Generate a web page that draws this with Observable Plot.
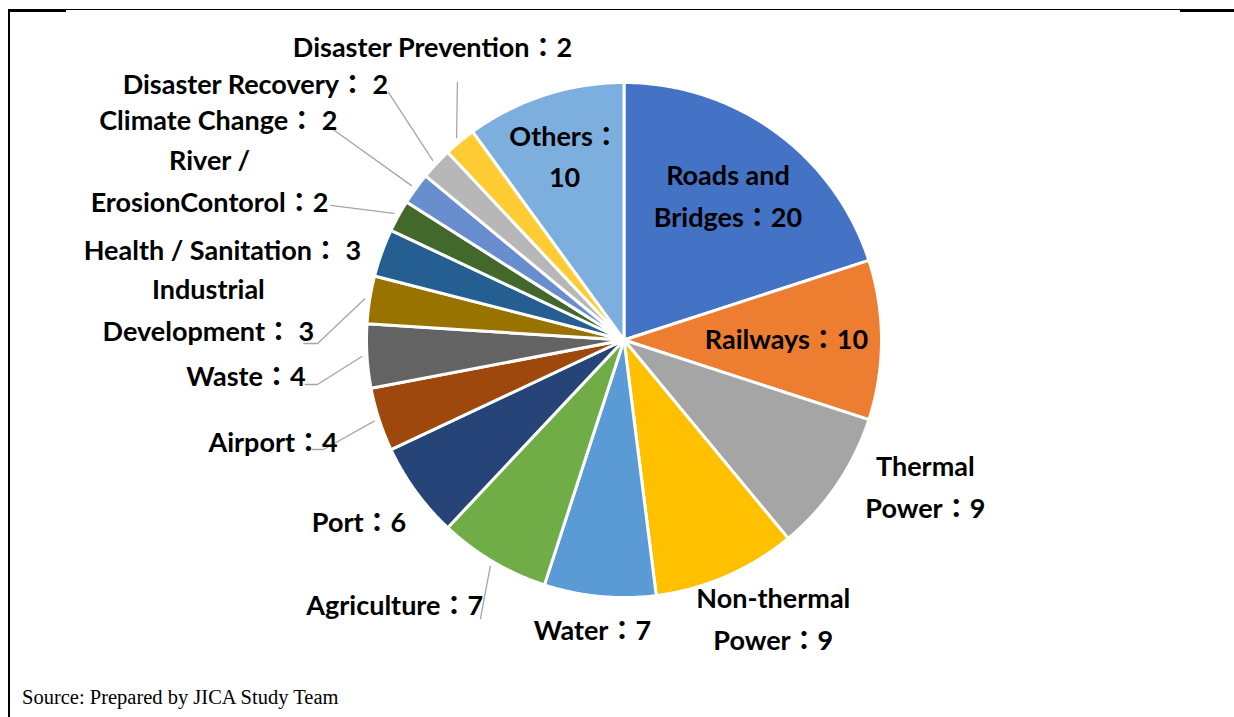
<!DOCTYPE html>
<html>
<head>
<meta charset="utf-8">
<script src="https://cdn.jsdelivr.net/npm/d3@7"></script>
<script src="https://cdn.jsdelivr.net/npm/@observablehq/plot@0.6"></script>
<style>
  body { margin: 0; background: #fff; }
  #wrap { position: relative; width: 1234px; height: 717px; overflow: hidden; background: #fff; }
  #chart { position: absolute; left: 0; top: 0; }
  .rule { position: absolute; background: #000; }
  #source { position: absolute; left: 22px; top: 687px; font-family: "Liberation Serif", "Times New Roman", serif;
            font-size: 20.5px; line-height: 20.5px; color: #000; white-space: nowrap; }
</style>
</head>
<body>
<div id="wrap">
  <div id="chart"></div>
  <div class="rule" style="left:8px;top:9px;width:1172px;height:1px"></div>
  <div class="rule" style="left:8px;top:9px;width:58px;height:3px"></div>
  <div class="rule" style="left:1180px;top:9px;width:54px;height:2.5px"></div>
  <div class="rule" style="left:8px;top:9px;width:2px;height:708px"></div>
  <div id="source">Source: Prepared by JICA Study Team</div>
</div>
<script>
// ---------- data (clockwise from 12 o'clock) ----------
const categories = [
  "Roads and Bridges", "Railways", "Thermal Power", "Non-thermal Power", "Water",
  "Agriculture", "Port", "Airport", "Waste", "Industrial Development",
  "Health / Sanitation", "River / Erosion Control", "Climate Change",
  "Disaster Recovery", "Disaster Prevention", "Others"
];
const values = [20, 10, 9, 9, 7, 7, 6, 4, 4, 3, 3, 2, 2, 2, 2, 10];
// label text as printed in the chart (name part, then separator before the value)
const labelNames = [
  "Roads and\nBridges", "Railways", "Thermal\nPower", "Non-thermal\nPower", "Water",
  "Agriculture", "Port", "Airport", "Waste", "Industrial\nDevelopment",
  "Health / Sanitation", "River /\nErosionContorol", "Climate Change",
  "Disaster Recovery", "Disaster Prevention", "Others"
];
const labelSeps = ["：", "：", "：", "：", "：", "：", "：", "：", "：", "： ",
                   "： ", "：", "： ", "： ", "：", "：\n"];
const sourceText = "Source: Prepared by JICA Study Team";

// ---------- styles / layout ----------
const colors = ["#4472C4", "#ED7D31", "#A5A5A5", "#FFC000", "#5B9BD5", "#70AD47",
                "#264478", "#9E480E", "#636363", "#997300", "#255E91", "#43682B",
                "#698ED0", "#B7B7B7", "#FFCD33", "#7CAFDD"];
// label placement: radius (in pie radii) and angular shift (deg) from the slice mid-angle
const labelR     = [0.687, 0.631, 1.303, 1.231, 1.135, 1.363, 1.250, 1.420, 1.475, 1.618, 1.598, 1.723, 1.791, 1.741, 1.358, 0.747];
const labelShift = [0, 0, -8.1, -4.7, 0.8, 10.2, 1.4, 1.7, -1.9, -5.0, -7.2, -7.9, -7.6, -8.5, 6.4, 0];
// leader lines: knee point (radius, absolute angle) and horizontal tail length (pie radii)
const leaderSpec = [
  {cat: "Agriculture",            knee: [1.217, 207.26], tail: 0},
  {cat: "Airport",                knee: [1.242, 249.98], tail: 0.043},
  {cat: "Waste",                  knee: [1.203, 261.74], tail: 0.047},
  {cat: "Industrial Development", knee: [1.190, 269.35], tail: 0.054},
  {cat: "River / Erosion Control",knee: [1.254, 294.62], tail: 0},
  {cat: "Climate Change",         knee: [1.421, 305.88], tail: 0},
  {cat: "Disaster Recovery",      knee: [1.327, 316.42], tail: 0},
  {cat: "Disaster Prevention",    knee: [1.191, 327.10], tail: 0}
];
const CX = 623.5, CY = 339.5, R = 257.5;
const FONT = "Lato, 'Noto Sans CJK JP', sans-serif";

// ---------- geometry derived from the values ----------
const total = d3.sum(values);
let acc = 0;
const slices = categories.map((name, i) => {
  const a0 = acc / total * 360; acc += values[i]; const a1 = acc / total * 360;
  return {name, value: values[i], a0, a1, mid: (a0 + a1) / 2, i};
});
const rad = d => d * Math.PI / 180;
const px = (r, deg) => r * Math.sin(rad(deg));
const py = (r, deg) => r * Math.cos(rad(deg));

const wedgePts = slices.flatMap(s => {
  const pts = [{name: s.name, x: 0, y: 0}];
  const n = Math.max(2, Math.ceil((s.a1 - s.a0) / 0.5));
  for (let k = 0; k <= n; k++) {
    const a = s.a0 + (s.a1 - s.a0) * k / n;
    pts.push({name: s.name, x: px(1, a), y: py(1, a)});
  }
  pts.push({name: s.name, x: 0, y: 0});
  return pts;
});

const labels = slices.map(s => ({
  name: s.name,
  x: px(labelR[s.i], s.mid + labelShift[s.i]),
  y: py(labelR[s.i], s.mid + labelShift[s.i]),
  text: labelNames[s.i] + labelSeps[s.i] + s.value
}));

const leaderPts = leaderSpec.flatMap(l => {
  const s = slices.find(d => d.name === l.cat);
  const kx = px(l.knee[0], l.knee[1]), ky = py(l.knee[0], l.knee[1]);
  const pts = [{name: l.cat, x: px(1.02, s.mid), y: py(1.02, s.mid)}, {name: l.cat, x: kx, y: ky}];
  if (l.tail) pts.push({name: l.cat, x: kx - l.tail, y: ky});
  return pts;
});

const chart = Plot.plot({
  width: 1234,
  height: 680,
  margin: 0,
  x: {domain: [-1, 1], range: [CX - R, CX + R], axis: null},
  y: {domain: [-1, 1], range: [CY + R, CY - R], axis: null},
  color: {domain: categories, range: colors},
  style: {background: "transparent"},
  marks: [
    Plot.line(wedgePts, {x: "x", y: "y", z: "name", fill: "name", stroke: "white", strokeWidth: 3, strokeLinejoin: "miter"}),
    Plot.line(leaderPts, {x: "x", y: "y", z: "name", stroke: "#A6A6A6", strokeWidth: 1.3}),
    Plot.text(labels, {x: "x", y: "y", text: "text", textAnchor: "middle", lineAnchor: "middle", dy: -4,
      lineHeight: 1.555, fontSize: 27, fontWeight: "bold", fontFamily: FONT, fill: "#000"})
  ]
});
document.getElementById("chart").appendChild(chart);
document.getElementById("source").textContent = sourceText;
</script>
</body>
</html>
